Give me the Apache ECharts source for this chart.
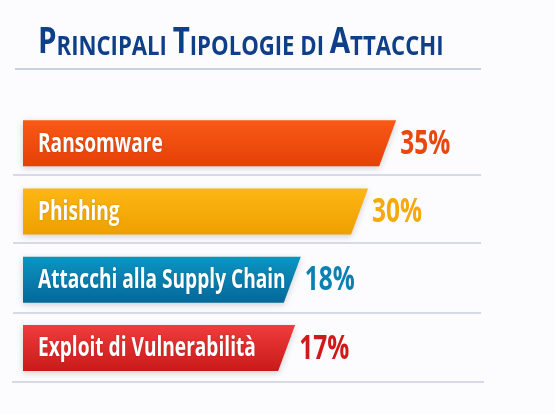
<!DOCTYPE html>
<html><head><meta charset="utf-8">
<script src="https://cdn.jsdelivr.net/npm/echarts@6/dist/echarts.min.js"></script>
<style>html,body{margin:0;padding:0;background:#fcfcfe}#c{width:555px;height:414px}</style>
</head><body><div id="c"></div>
<script>
const categories = ["Ransomware", "Phishing", "Attacchi alla Supply Chain", "Exploit di Vulnerabilità"];
const values = [35, 30, 18, 17];
const valueLabels = ["35%", "30%", "18%", "17%"];

const topColors = ["#f85a16", "#fdb714", "#0c95c2", "#f03c3c"];
const botColors = ["#e63f08", "#eea000", "#05689a", "#c91a1a"];
const textColors = ["#e8480e", "#f4aa0a", "#0b80b2", "#d01a1a"];
const FONT = "'Open Sans', sans-serif";
const AXIS_MIN = -30, AXIS_MAX = 52;

const chart = echarts.init(document.getElementById('c'));
chart.setOption({
  backgroundColor: '#fcfcfe',
  animation: false,
  graphic: [
    {
      type: 'text', x: 38, y: 61, scaleX: 0.82,
      style: {
        text: '{b|P}{s|RINCIPALI }{b|T}{s|IPOLOGIE }{s|DI }{b|A}{s|TTACCHI}',
        textVerticalAlign: 'bottom',
        rich: {
          b: { fontFamily: FONT, fontWeight: 'bold', fontSize: 36, fill: '#0e3f88', verticalAlign: 'bottom' },
          s: { fontFamily: FONT, fontWeight: 'bold', fontSize: 27, fill: '#0e3f88', verticalAlign: 'bottom' }
        }
      }
    },
    { type: 'line', shape: { x1: 15, y1: 69, x2: 481, y2: 69 }, style: { stroke: '#b9c3da', lineWidth: 1.5 } },
    { type: 'line', shape: { x1: 13, y1: 175, x2: 481, y2: 175 }, style: { stroke: '#c9cfe2', lineWidth: 1.5 } },
    { type: 'line', shape: { x1: 13, y1: 243, x2: 481, y2: 243 }, style: { stroke: '#c9cfe2', lineWidth: 1.5 } },
    { type: 'line', shape: { x1: 13, y1: 313, x2: 481, y2: 313 }, style: { stroke: '#c9cfe2', lineWidth: 1.5 } },
    { type: 'line', shape: { x1: 12, y1: 382, x2: 484, y2: 382 }, style: { stroke: '#c9cfe2', lineWidth: 1.5 } }
  ],
  grid: { left: 23, right: 72, top: 109, bottom: 32 },
  xAxis: { type: 'value', min: AXIS_MIN, max: AXIS_MAX, show: false },
  yAxis: { type: 'category', data: categories, inverse: true, show: false },
  series: [{
    type: 'custom',
    data: values.map((v, i) => ({ value: [v, i], name: categories[i] })),
    encode: { x: 0, y: 1 },
    renderItem: function (params, api) {
      const i = api.value(1);
      const v = api.value(0);
      const base = api.coord([AXIS_MIN, i]);
      const end = api.coord([v, i]);
      const h = 46, s = 8.5;
      const cy = base[1], top = cy - h / 2, bot = cy + h / 2;
      const x0 = base[0], xm = end[0];
      return {
        type: 'group',
        children: [
          {
            type: 'polygon',
            shape: { points: [[x0, top], [xm + s, top], [xm - s, bot], [x0, bot]] },
            style: {
              fill: new echarts.graphic.LinearGradient(0, 0, 0, 1, [
                { offset: 0, color: topColors[i] }, { offset: 1, color: botColors[i] }
              ]),
              shadowBlur: 6, shadowOffsetY: 2, shadowColor: 'rgba(0,0,0,0.18)'
            }
          },
          {
            type: 'text', x: x0 + 15, y: cy + 1, scaleX: 0.735,
            style: {
              x: 0, y: 0, text: categories[i], fill: '#ffffff',
              font: 'bold 26px ' + FONT, textVerticalAlign: 'middle', textAlign: 'left',
              textShadowColor: 'rgba(0,0,0,0.2)', textShadowBlur: 2
            }
          },
          {
            type: 'text', x: xm + s + 4, y: cy + 1, scaleX: 0.72,
            style: {
              x: 0, y: 0, text: valueLabels[i], fill: textColors[i],
              font: 'bold 34px ' + FONT, textVerticalAlign: 'middle', textAlign: 'left'
            }
          }
        ]
      };
    }
  }]
});
</script></body></html>
